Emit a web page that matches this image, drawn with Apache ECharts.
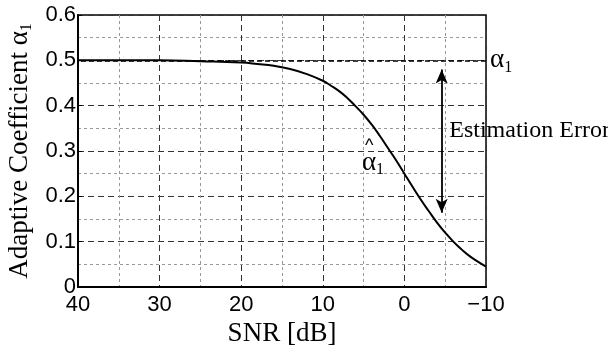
<!DOCTYPE html>
<html><head><meta charset="utf-8">
<script src="https://cdn.jsdelivr.net/npm/echarts@6/dist/echarts.min.js"></script>
<style>html,body{margin:0;padding:0;background:#fff}#c{width:608px;height:353px}</style>
</head><body><div id="c"></div>
<script>
// Data
const snr = [40, 35, 30, 25, 20, 18, 16, 14, 12, 10, 9, 8, 7, 6, 5, 4, 3, 2, 1, 0, -1, -2, -3, -4, -5, -6, -7, -8, -9, -10];
const alphaHat = [0.500, 0.500, 0.500, 0.498, 0.495, 0.492, 0.488, 0.481, 0.470, 0.455, 0.444, 0.432, 0.417, 0.399, 0.380, 0.358, 0.333, 0.306, 0.279, 0.250, 0.221, 0.193, 0.167, 0.142, 0.120, 0.100, 0.083, 0.068, 0.056, 0.045];
const trueAlpha = 0.5;
const xTicks = [40, 30, 20, 10, 0, -10];
const yTicks = [0, 0.1, 0.2, 0.3, 0.4, 0.5, 0.6];
const errorArrow = {x: -4.57, top: 0.48, bottom: 0.164};
const errorLabel = {x: -5.5, y: 0.345, text: 'Estimation Error'};
const hatLabel = {x: 5.2, y: 0.285};

const serif = '"Liberation Serif", "Times New Roman", serif';
const sans = '"Liberation Sans", Arial, Helvetica, sans-serif';

const chart = echarts.init(document.getElementById('c'), null, {renderer: 'canvas'});
const data = snr.map((s, i) => [s, alphaHat[i]]);

chart.setOption({
  animation: false,
  backgroundColor: '#fff',
  grid: {left: 78, right: 122, top: 15, bottom: 66, show: true, borderColor: '#000', borderWidth: 1.5,
    backgroundColor: 'transparent', containLabel: false, outerBoundsMode: 'none'},
  xAxis: {
    type: 'value', inverse: true, min: -10, max: 40, interval: 10,
    name: 'SNR [dB]', nameLocation: 'middle', nameGap: 31,
    nameTextStyle: {fontFamily: serif, fontSize: 27, color: '#000'},
    axisLine: {show: true, onZero: false, lineStyle: {color: '#000', width: 2}},
    axisTick: {show: false},
    axisLabel: {fontFamily: sans, fontSize: 22, color: '#000', margin: 7,
      formatter: v => xTicks.includes(v) ? String(v).replace('-', '\u2212') : ''},
    splitLine: {show: true, lineStyle: {color: '#333', type: [6, 4], width: 1}},
    minorTick: {show: true, splitNumber: 2, length: 0},
    minorSplitLine: {show: true, lineStyle: {color: '#999', type: [3, 3], width: 1}}
  },
  yAxis: {
    type: 'value', min: 0, max: 0.6, interval: 0.1,
    name: '{m|Adaptive Coefficient α}{s|1}', nameLocation: 'middle', nameGap: 40, nameRotate: 90,
    nameTextStyle: {fontFamily: serif, fontSize: 27, color: '#000',
      rich: {m: {fontFamily: serif, fontSize: 27, color: '#000', lineHeight: 30},
             s: {fontFamily: serif, fontSize: 16, color: '#000', lineHeight: 30, padding: [14, 0, 0, 0]}}},
    axisLine: {show: true, onZero: false, lineStyle: {color: '#000', width: 2}},
    axisTick: {show: true, inside: true, length: 4, lineStyle: {color: '#000'}},
    axisLabel: {fontFamily: sans, fontSize: 22, color: '#000', margin: 2,
      formatter: v => { const t = yTicks.find(k => Math.abs(k - v) < 1e-9); return t === undefined ? '' : String(t); }},
    splitLine: {show: true, lineStyle: {color: '#333', type: [6, 4], width: 1}},
    minorTick: {show: true, splitNumber: 2, length: 0},
    minorSplitLine: {show: true, lineStyle: {color: '#999', type: [3, 3], width: 1}}
  },
  series: [{
    type: 'line', data: data, smooth: true, symbol: 'none', z: 5,
    lineStyle: {color: '#000', width: 2},
    markLine: {
      silent: true, animation: false, symbol: ['none', 'none'],
      data: [
        {yAxis: trueAlpha, lineStyle: {color: '#000', type: [5, 3], width: 1.5},
          label: {show: true, position: 'start', distance: 4, formatter: '{m|α}{s|1}',
            rich: {m: {fontFamily: serif, fontSize: 27, color: '#000', lineHeight: 28},
                   s: {fontFamily: serif, fontSize: 16, color: '#000', lineHeight: 28, padding: [14, 0, 0, 0]}}}},
        [{coord: [errorArrow.x, errorArrow.top], symbol: 'arrow', symbolSize: [9, 14]},
         {coord: [errorArrow.x, errorArrow.bottom], symbol: 'arrow', symbolSize: [9, 14],
          lineStyle: {color: '#000', type: 'solid', width: 1.8}, label: {show: false}}]
      ],
      lineStyle: {color: '#000', type: 'solid', width: 1.8}
    },
    markPoint: {
      silent: true, animation: false, symbol: 'circle', symbolSize: 0,
      data: [
        {coord: [errorLabel.x, errorLabel.y], label: {show: true, position: 'right', distance: 0, formatter: errorLabel.text,
          fontFamily: serif, fontSize: 24, color: '#000'}},
        {coord: [hatLabel.x, hatLabel.y], label: {show: true, position: 'right', distance: 0,
          formatter: '{h|^}\n{m|α}{s|1}',
          rich: {h: {fontFamily: sans, fontSize: 18, color: '#000', lineHeight: 10, padding: [0, 0, 0, 3]},
                 m: {fontFamily: serif, fontSize: 27, color: '#000', lineHeight: 24},
                 s: {fontFamily: serif, fontSize: 16, color: '#000', lineHeight: 24, padding: [14, 0, 0, 0]}}}}
      ]
    }
  }]
});
</script></body></html>
